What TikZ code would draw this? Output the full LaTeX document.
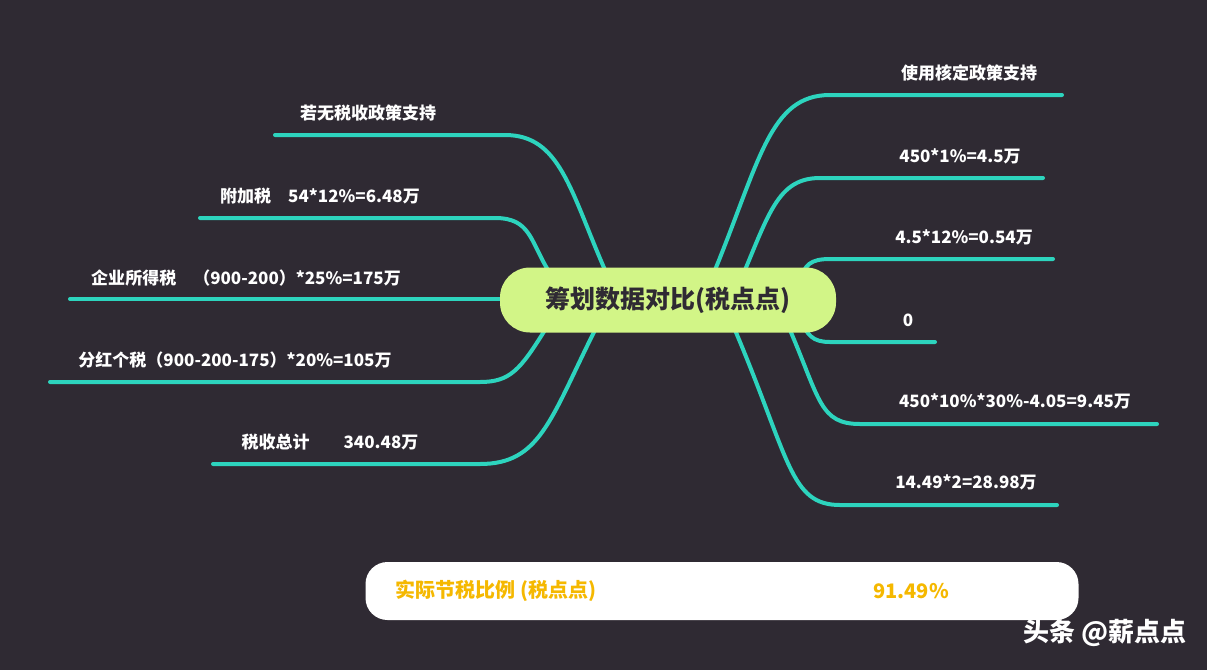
\documentclass[tikz,border=0pt]{standalone}
\usepackage{fontspec}
\setmainfont{Noto Sans CJK SC}
\usetikzlibrary{positioning}
\definecolor{bgcol}{RGB}{47,42,51}
\definecolor{teal}{RGB}{45,212,190}
\definecolor{lime}{RGB}{210,245,135}
\definecolor{gold}{RGB}{245,184,0}
\tikzset{
  branch/.style={teal,line width=4pt,line cap=round},
  lbl/.style={text=white,font=\fontsize{17}{20}\selectfont\bfseries,anchor=south,inner sep=3pt},
}
\begin{document}
\begin{tikzpicture}[x=1pt,y=-1pt]
    \fill[bgcol] (0,0) rectangle (1207,670);
    \useasboundingbox (0,0) rectangle (1207,670);
    % left side
    \draw[branch] (605,270) .. controls (570,190) and (560,135) .. (505,135) -- (275,135) coordinate (l1);
    \draw[branch] (548,270) .. controls (530,240) and (530,218) .. (495,218) -- (200,218) coordinate (l2);
    \draw[branch] (505,299) -- (70,299) coordinate (l3);
    \draw[branch] (545,330) .. controls (520,370) and (510,382) .. (480,382) -- (50,382) coordinate (l4);
    \draw[branch] (595,330) .. controls (550,420) and (540,464) .. (480,464) -- (213,464) coordinate (l5);
    % right side
    \draw[branch] (715,270) .. controls (760,160) and (770,95) .. (830,95) -- (1062,95) coordinate (r1);
    \draw[branch] (745,270) .. controls (770,210) and (780,178) .. (820,178) -- (1043,178) coordinate (r2);
    \draw[branch] (800,280) .. controls (805,265) and (810,259) .. (830,259) -- (1053,259) coordinate (r3);
    \draw[branch] (800,320) .. controls (808,335) and (812,342) .. (830,342) -- (935,342) coordinate (r4);
    \draw[branch] (790,330) .. controls (820,400) and (820,424) .. (860,424) -- (1157,424) coordinate (r5);
    \draw[branch] (735,330) .. controls (790,460) and (790,505) .. (840,505) -- (1057,505) coordinate (r6);
    % centre
    \node[fill=lime,rounded corners=30pt,minimum width=336pt,minimum height=65pt,
          font=\fontsize{25}{28}\selectfont\bfseries,text=bgcol] (hub) at (668,300) {筹划数据对比(税点点)};
    % labels
    \node[lbl] (t1) at (368,124) {若无税收政策支持};
    \node[lbl] (t2) at (320,207) {附加税\quad 54*12\%=6.48万};
    \node[lbl] (t3) at (246,289) {企业所得税\quad （900-200）*25\%=175万};
    \node[lbl] (t4) at (235,371) {分红个税（900-200-175）*20\%=105万};
    \node[lbl] (t5) at (330,453) {税收总计\qquad 340.48万};
    \node[lbl] (u1) at (969,84) {使用核定政策支持};
    \node[lbl] (u2) at (960,167) {450*1\%=4.5万};
    \node[lbl] (u3) at (964,248) {4.5*12\%=0.54万};
    \node[lbl] (u4) at (908,330) {0};
    \node[lbl] (u5) at (1015,412) {450*10\%*30\%-4.05=9.45万};
    \node[lbl] (u6) at (966,493) {14.49*2=28.98万};
    % result bar
    \node[fill=white,rounded corners=22pt,minimum width=713pt,minimum height=58pt] (bar) at (722,591) {};
    \node[text=gold,font=\fontsize{20}{24}\selectfont\bfseries,anchor=west] (barl) at (392,591) {实际节税比例 (税点点)};
    \node[text=gold,font=\fontsize{20}{24}\selectfont\bfseries] (barv) at (911,591) {91.49\%};
    \node[text=white,font=\fontsize{26}{30}\selectfont\bfseries,anchor=east] (mark) at (1190,633) {头条 @薪点点};
\end{tikzpicture}
\end{document}
